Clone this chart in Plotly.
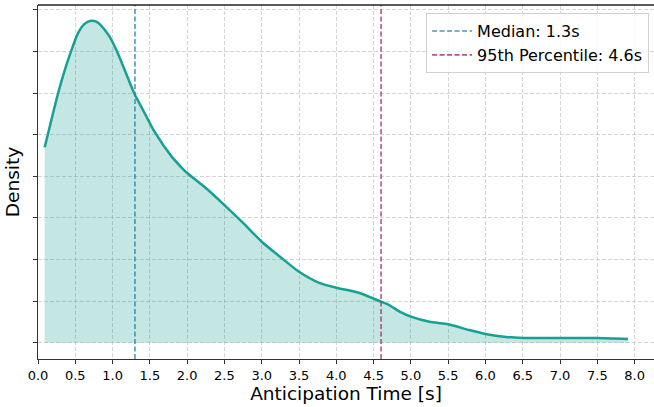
import plotly.graph_objects as go

# Density curve
time_s = [0.09, 0.18, 0.27, 0.36, 0.45, 0.53, 0.62, 0.71, 0.78, 0.85, 0.96, 1.07, 1.18, 1.29,
          1.43, 1.56, 1.79, 1.90, 2.00, 2.25, 2.50, 2.75, 3.00, 3.25, 3.50, 3.77, 4.00,
          4.30, 4.60, 4.71, 4.85, 5.00, 5.25, 5.50, 5.78, 6.00, 6.28, 6.50, 7.00, 7.50, 7.91]
density = [0.235, 0.268, 0.300, 0.328, 0.352, 0.371, 0.383, 0.387, 0.386, 0.381, 0.368, 0.348,
           0.324, 0.300, 0.276, 0.254, 0.224, 0.213, 0.204, 0.186, 0.1655, 0.144, 0.1214,
           0.103, 0.0853, 0.072, 0.0661, 0.0601, 0.0493, 0.0453, 0.0373, 0.0313, 0.0252,
           0.0221, 0.0153, 0.0105, 0.0069, 0.0057, 0.0057, 0.0057, 0.0045]

median_s = 1.3
p95_s = 4.6
x_ticks = [0.0, 0.5, 1.0, 1.5, 2.0, 2.5, 3.0, 3.5, 4.0, 4.5, 5.0, 5.5, 6.0, 6.5, 7.0, 7.5, 8.0]
y_ticks = [0.0, 0.05, 0.10, 0.15, 0.20, 0.25, 0.30, 0.35, 0.40]

teal = "#17a094"
median_color = "rgba(46,134,171,0.85)"
p95_color = "rgba(162,59,114,0.85)"

fig = go.Figure()
fig.add_trace(go.Scatter(
    x=time_s, y=density, mode="lines",
    line=dict(color=teal, width=2.5, shape="spline", smoothing=0.6),
    fill="tozeroy", fillcolor="rgba(23,160,148,0.25)", showlegend=False, hoverinfo="skip"))

fig.add_shape(type="line", x0=median_s, x1=median_s, y0=0, y1=1, xref="x", yref="paper",
              line=dict(color=median_color, width=1.6, dash="5px,2.5px"),
              showlegend=True, name=f"Median: {median_s}s")
fig.add_shape(type="line", x0=p95_s, x1=p95_s, y0=0, y1=1, xref="x", yref="paper",
              line=dict(color=p95_color, width=1.6, dash="5px,2.5px"),
              showlegend=True, name=f"95th Percentile: {p95_s}s")

grid = dict(showgrid=True, gridcolor="rgba(185,185,185,0.6)", griddash="4px,2px", gridwidth=1)

fig.update_layout(
    width=654, height=407,
    margin=dict(l=38, r=0, t=5, b=48),
    plot_bgcolor="white", paper_bgcolor="white",
    font=dict(family="DejaVu Sans", color="black"),
    legend=dict(x=0.992, y=0.977, xanchor="right", yanchor="top",
                bgcolor="rgba(255,255,255,0.85)", bordercolor="#d0d0d0", borderwidth=1,
                font=dict(size=16, family="DejaVu Sans"), tracegroupgap=2, itemwidth=40),
    xaxis=dict(range=[0, 8.26], tickvals=x_ticks, ticktext=[f"{v:.1f}" for v in x_ticks],
               ticks="outside", ticklen=4, tickcolor="#333", tickfont=dict(size=13),
               showline=True, linecolor="#333", linewidth=1.2, mirror=False, zeroline=False,
               title=dict(text="Anticipation Time [s]", font=dict(size=18.5), standoff=4), **grid),
    yaxis=dict(range=[-0.0196, 0.406], tickvals=y_ticks, showticklabels=False,
               ticks="outside", ticklen=4, tickcolor="#333",
               showline=True, linecolor="#333", linewidth=1.2, zeroline=False,
               title=dict(text="Density", font=dict(size=18.5), standoff=8), **grid),
)
fig.add_shape(type="line", x0=0, x1=1, y0=1, y1=1, xref="paper", yref="paper",
              line=dict(color="#222", width=1.5))

fig.write_html("out.html", config={"displayModeBar": False},
               post_script="document.body.style.margin='0';document.body.style.overflow='hidden';")
